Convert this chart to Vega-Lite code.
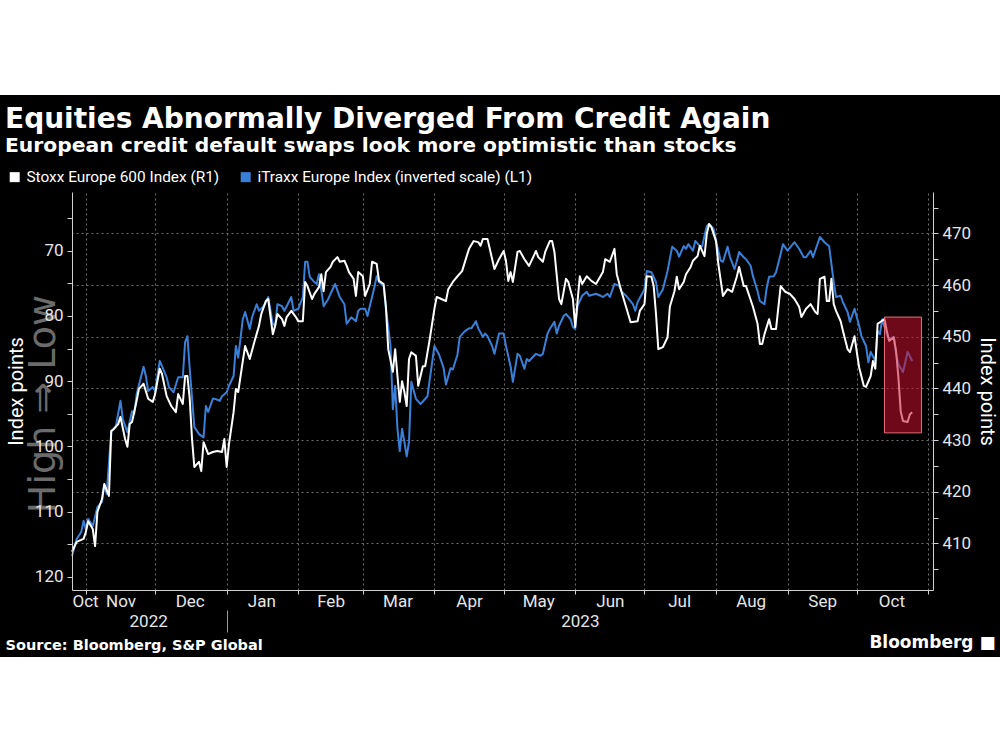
{
"$schema": "https://vega.github.io/schema/vega-lite/v6.json",
"background": "black",
"padding": 0,
"spacing": 0,
"bounds": "full",
"columns": 1,
"center": true,
"resolve": {"scale": {"color": "independent"}, "legend": {"color": "independent"}},
"config": {
  "view": {"stroke": null},
  "font": "Roboto",
  "axis": {"labelColor": "#e6e6e6", "labelFont": "Roboto", "labelFontSize": 17, "domainColor": "#d0d0d0", "tickColor": "#d0d0d0", "gridColor": "#6e6e6e", "gridDash": [2, 3], "titleColor": "white", "titleFont": "Roboto", "titleFontWeight": "normal"}
},
"datasets": {
  "itraxx": [
    {"date":"2022-10-26","value":116.8},{"date":"2022-10-28","value":114.2},{"date":"2022-10-30","value":113.1},{"date":"2022-10-31","value":111.4},
    {"date":"2022-11-01","value":112.7},{"date":"2022-11-02","value":111.1},{"date":"2022-11-04","value":112.2},{"date":"2022-11-06","value":109.3},
    {"date":"2022-11-08","value":108.5},{"date":"2022-11-09","value":105.8},{"date":"2022-11-10","value":107.3},{"date":"2022-11-12","value":97.8},
    {"date":"2022-11-13","value":97.3},{"date":"2022-11-14","value":96.9},{"date":"2022-11-16","value":93.0},{"date":"2022-11-17","value":95.8},
    {"date":"2022-11-19","value":97.8},{"date":"2022-11-21","value":94.6},{"date":"2022-11-22","value":95.0},{"date":"2022-11-23","value":92.0},
    {"date":"2022-11-26","value":87.8},{"date":"2022-11-27","value":89.2},{"date":"2022-11-28","value":91.5},{"date":"2022-11-30","value":90.9},
    {"date":"2022-12-01","value":91.5},{"date":"2022-12-03","value":86.9},{"date":"2022-12-04","value":87.7},{"date":"2022-12-06","value":89.4},
    {"date":"2022-12-07","value":90.9},{"date":"2022-12-09","value":91.7},{"date":"2022-12-11","value":89.4},{"date":"2022-12-13","value":89.4},
    {"date":"2022-12-14","value":84.0},{"date":"2022-12-15","value":83.1},{"date":"2022-12-16","value":88.1},{"date":"2022-12-18","value":97.0},
    {"date":"2022-12-20","value":98.1},{"date":"2022-12-22","value":98.6},{"date":"2022-12-23","value":93.8},{"date":"2022-12-24","value":94.7},
    {"date":"2022-12-26","value":92.7},{"date":"2022-12-27","value":92.7},{"date":"2022-12-29","value":93.0},{"date":"2022-12-30","value":92.3},
    {"date":"2023-01-01","value":91.7},{"date":"2023-01-02","value":90.7},{"date":"2023-01-04","value":89.2},{"date":"2023-01-05","value":84.6},
    {"date":"2023-01-06","value":86.4},{"date":"2023-01-08","value":80.5},{"date":"2023-01-09","value":79.4},{"date":"2023-01-11","value":82.0},
    {"date":"2023-01-12","value":80.2},{"date":"2023-01-14","value":78.2},{"date":"2023-01-15","value":79.2},{"date":"2023-01-17","value":78.5},
    {"date":"2023-01-19","value":77.1},{"date":"2023-01-21","value":81.2},{"date":"2023-01-22","value":81.5},{"date":"2023-01-23","value":78.2},
    {"date":"2023-01-25","value":78.5},{"date":"2023-01-26","value":79.2},{"date":"2023-01-27","value":78.5},{"date":"2023-01-29","value":77.1},
    {"date":"2023-01-30","value":79.2},{"date":"2023-02-01","value":78.9},{"date":"2023-02-03","value":77.1},{"date":"2023-02-04","value":71.7},
    {"date":"2023-02-05","value":71.7},{"date":"2023-02-06","value":74.0},{"date":"2023-02-08","value":74.8},{"date":"2023-02-09","value":75.1},
    {"date":"2023-02-10","value":73.6},{"date":"2023-02-12","value":78.5},{"date":"2023-02-14","value":77.4},{"date":"2023-02-15","value":76.6},
    {"date":"2023-02-17","value":75.1},{"date":"2023-02-19","value":77.1},{"date":"2023-02-21","value":78.2},{"date":"2023-02-22","value":81.2},
    {"date":"2023-02-24","value":80.2},{"date":"2023-02-26","value":80.8},{"date":"2023-02-27","value":79.2},{"date":"2023-02-28","value":78.9},
    {"date":"2023-03-02","value":78.9},{"date":"2023-03-03","value":80.0},{"date":"2023-03-06","value":75.6},{"date":"2023-03-07","value":73.9},
    {"date":"2023-03-08","value":74.8},{"date":"2023-03-10","value":75.4},{"date":"2023-03-11","value":78.9},{"date":"2023-03-13","value":84.6},
    {"date":"2023-03-14","value":94.3},{"date":"2023-03-15","value":90.7},{"date":"2023-03-16","value":97.3},{"date":"2023-03-17","value":100.7},
    {"date":"2023-03-18","value":97.3},{"date":"2023-03-19","value":99.3},{"date":"2023-03-20","value":101.5},{"date":"2023-03-21","value":99.3},
    {"date":"2023-03-22","value":90.1},{"date":"2023-03-24","value":92.7},{"date":"2023-03-26","value":93.5},{"date":"2023-03-29","value":92.3},
    {"date":"2023-04-01","value":84.6},{"date":"2023-04-03","value":85.9},{"date":"2023-04-05","value":88.0},{"date":"2023-04-06","value":90.5},
    {"date":"2023-04-08","value":88.0},{"date":"2023-04-09","value":88.2},{"date":"2023-04-11","value":85.9},{"date":"2023-04-12","value":83.2},
    {"date":"2023-04-14","value":82.4},{"date":"2023-04-16","value":81.9},{"date":"2023-04-17","value":81.9},{"date":"2023-04-19","value":80.8},
    {"date":"2023-04-20","value":81.9},{"date":"2023-04-22","value":83.2},{"date":"2023-04-23","value":82.7},{"date":"2023-04-24","value":83.1},
    {"date":"2023-04-26","value":84.6},{"date":"2023-04-27","value":85.8},{"date":"2023-04-29","value":82.7},{"date":"2023-05-01","value":82.7},
    {"date":"2023-05-02","value":84.6},{"date":"2023-05-04","value":87.7},{"date":"2023-05-05","value":90.1},{"date":"2023-05-07","value":85.8},
    {"date":"2023-05-08","value":86.1},{"date":"2023-05-10","value":88.1},{"date":"2023-05-11","value":86.6},{"date":"2023-05-12","value":86.9},
    {"date":"2023-05-15","value":85.8},{"date":"2023-05-17","value":86.1},{"date":"2023-05-18","value":85.8},{"date":"2023-05-20","value":82.7},
    {"date":"2023-05-21","value":82.0},{"date":"2023-05-23","value":80.9},{"date":"2023-05-24","value":82.7},{"date":"2023-05-25","value":81.5},
    {"date":"2023-05-27","value":80.0},{"date":"2023-05-28","value":79.7},{"date":"2023-05-30","value":80.5},{"date":"2023-05-31","value":81.7},
    {"date":"2023-06-01","value":82.0},{"date":"2023-06-02","value":78.5},{"date":"2023-06-04","value":76.9},{"date":"2023-06-06","value":76.3},
    {"date":"2023-06-07","value":76.9},{"date":"2023-06-10","value":76.6},{"date":"2023-06-12","value":76.9},{"date":"2023-06-13","value":77.1},
    {"date":"2023-06-15","value":76.6},{"date":"2023-06-16","value":77.1},{"date":"2023-06-18","value":75.1},{"date":"2023-06-20","value":75.4},
    {"date":"2023-06-21","value":76.2},{"date":"2023-06-23","value":76.9},{"date":"2023-06-26","value":78.2},{"date":"2023-06-27","value":79.2},
    {"date":"2023-06-28","value":77.9},{"date":"2023-07-01","value":75.9},{"date":"2023-07-02","value":73.1},{"date":"2023-07-04","value":73.3},
    {"date":"2023-07-06","value":74.8},{"date":"2023-07-07","value":77.1},{"date":"2023-07-09","value":75.9},{"date":"2023-07-11","value":73.1},
    {"date":"2023-07-13","value":69.4},{"date":"2023-07-15","value":70.0},{"date":"2023-07-16","value":70.9},{"date":"2023-07-18","value":69.3},
    {"date":"2023-07-19","value":69.7},{"date":"2023-07-20","value":69.0},{"date":"2023-07-22","value":70.0},{"date":"2023-07-23","value":68.5},
    {"date":"2023-07-25","value":69.3},{"date":"2023-07-26","value":69.3},{"date":"2023-07-28","value":66.2},{"date":"2023-07-29","value":65.9},
    {"date":"2023-07-31","value":66.7},{"date":"2023-08-01","value":68.5},{"date":"2023-08-03","value":71.5},{"date":"2023-08-04","value":71.7},
    {"date":"2023-08-06","value":69.4},{"date":"2023-08-07","value":70.9},{"date":"2023-08-09","value":72.8},{"date":"2023-08-10","value":71.6},
    {"date":"2023-08-11","value":70.2},{"date":"2023-08-13","value":71.0},{"date":"2023-08-14","value":71.3},{"date":"2023-08-16","value":72.3},
    {"date":"2023-08-17","value":73.9},{"date":"2023-08-19","value":76.2},{"date":"2023-08-20","value":77.7},{"date":"2023-08-22","value":78.2},
    {"date":"2023-08-23","value":75.6},{"date":"2023-08-24","value":74.0},{"date":"2023-08-26","value":73.9},{"date":"2023-08-27","value":73.3},
    {"date":"2023-08-29","value":70.5},{"date":"2023-08-30","value":69.0},{"date":"2023-09-01","value":70.0},{"date":"2023-09-04","value":68.7},
    {"date":"2023-09-06","value":69.7},{"date":"2023-09-08","value":71.0},{"date":"2023-09-09","value":71.0},{"date":"2023-09-11","value":70.0},
    {"date":"2023-09-12","value":71.0},{"date":"2023-09-15","value":67.9},{"date":"2023-09-17","value":68.7},{"date":"2023-09-19","value":69.3},
    {"date":"2023-09-21","value":74.8},{"date":"2023-09-22","value":77.1},{"date":"2023-09-24","value":76.9},{"date":"2023-09-25","value":77.9},
    {"date":"2023-09-27","value":79.4},{"date":"2023-09-28","value":80.9},{"date":"2023-09-30","value":78.9},{"date":"2023-10-02","value":81.5},
    {"date":"2023-10-03","value":83.1},{"date":"2023-10-05","value":84.6},{"date":"2023-10-06","value":87.1},{"date":"2023-10-07","value":85.5},
    {"date":"2023-10-09","value":86.9},{"date":"2023-10-10","value":82.3},{"date":"2023-10-11","value":82.8},{"date":"2023-10-12","value":80.5},
    {"date":"2023-10-14","value":82.8},{"date":"2023-10-15","value":83.5},{"date":"2023-10-17","value":83.2},{"date":"2023-10-18","value":85.8},
    {"date":"2023-10-19","value":87.4},{"date":"2023-10-21","value":88.6},{"date":"2023-10-22","value":87.1},{"date":"2023-10-23","value":85.5},
    {"date":"2023-10-25","value":86.9}
  ],
  "stoxx": [
    {"date":"2022-10-26","value":408.4},{"date":"2022-10-28","value":410.3},{"date":"2022-10-31","value":410.9},{"date":"2022-11-01","value":412.2},
    {"date":"2022-11-02","value":414.3},{"date":"2022-11-04","value":412.8},{"date":"2022-11-05","value":409.5},{"date":"2022-11-06","value":416.1},
    {"date":"2022-11-08","value":418.6},{"date":"2022-11-09","value":421.5},{"date":"2022-11-11","value":419.2},{"date":"2022-11-12","value":431.8},
    {"date":"2022-11-13","value":432.1},{"date":"2022-11-15","value":433.1},{"date":"2022-11-16","value":434.5},{"date":"2022-11-18","value":430.2},
    {"date":"2022-11-19","value":428.7},{"date":"2022-11-20","value":433.1},{"date":"2022-11-21","value":433.5},{"date":"2022-11-23","value":437.6},
    {"date":"2022-11-24","value":439.9},{"date":"2022-11-26","value":440.9},{"date":"2022-11-28","value":438.0},{"date":"2022-11-30","value":437.4},
    {"date":"2022-12-01","value":438.9},{"date":"2022-12-03","value":443.8},{"date":"2022-12-04","value":442.8},{"date":"2022-12-06","value":438.5},
    {"date":"2022-12-08","value":436.6},{"date":"2022-12-10","value":435.4},{"date":"2022-12-11","value":438.9},{"date":"2022-12-13","value":437.0},
    {"date":"2022-12-14","value":442.4},{"date":"2022-12-15","value":442.4},{"date":"2022-12-16","value":438.0},{"date":"2022-12-17","value":430.2},
    {"date":"2022-12-18","value":424.8},{"date":"2022-12-20","value":425.8},{"date":"2022-12-21","value":424.0},{"date":"2022-12-22","value":429.6},
    {"date":"2022-12-24","value":427.3},{"date":"2022-12-26","value":427.7},{"date":"2022-12-28","value":427.9},{"date":"2022-12-30","value":427.7},
    {"date":"2022-12-31","value":430.2},{"date":"2023-01-01","value":424.8},{"date":"2023-01-02","value":429.2},{"date":"2023-01-04","value":435.4},
    {"date":"2023-01-05","value":439.9},{"date":"2023-01-06","value":439.3},{"date":"2023-01-08","value":445.3},{"date":"2023-01-09","value":448.2},
    {"date":"2023-01-11","value":445.7},{"date":"2023-01-13","value":449.0},{"date":"2023-01-15","value":452.1},{"date":"2023-01-16","value":454.4},
    {"date":"2023-01-18","value":456.9},{"date":"2023-01-19","value":457.3},{"date":"2023-01-21","value":450.5},{"date":"2023-01-22","value":452.1},
    {"date":"2023-01-23","value":454.4},{"date":"2023-01-25","value":453.4},{"date":"2023-01-26","value":452.1},{"date":"2023-01-27","value":453.8},
    {"date":"2023-01-29","value":455.0},{"date":"2023-01-31","value":453.8},{"date":"2023-02-01","value":453.0},{"date":"2023-02-03","value":453.0},
    {"date":"2023-02-04","value":460.6},{"date":"2023-02-05","value":459.8},{"date":"2023-02-07","value":457.3},{"date":"2023-02-08","value":458.3},
    {"date":"2023-02-10","value":459.6},{"date":"2023-02-11","value":462.1},{"date":"2023-02-12","value":458.8},{"date":"2023-02-13","value":462.5},
    {"date":"2023-02-15","value":463.5},{"date":"2023-02-16","value":464.5},{"date":"2023-02-18","value":465.4},{"date":"2023-02-19","value":464.5},
    {"date":"2023-02-21","value":464.7},{"date":"2023-02-22","value":463.7},{"date":"2023-02-23","value":462.5},{"date":"2023-02-25","value":461.2},
    {"date":"2023-02-26","value":457.9},{"date":"2023-02-27","value":462.5},{"date":"2023-03-01","value":461.7},{"date":"2023-03-02","value":457.9},
    {"date":"2023-03-04","value":460.2},{"date":"2023-03-05","value":464.5},{"date":"2023-03-07","value":464.1},{"date":"2023-03-08","value":460.8},
    {"date":"2023-03-10","value":460.2},{"date":"2023-03-11","value":455.8},{"date":"2023-03-12","value":447.6},{"date":"2023-03-14","value":443.2},
    {"date":"2023-03-15","value":447.6},{"date":"2023-03-16","value":442.4},{"date":"2023-03-17","value":437.4},{"date":"2023-03-18","value":441.4},
    {"date":"2023-03-19","value":439.3},{"date":"2023-03-20","value":436.6},{"date":"2023-03-21","value":445.7},{"date":"2023-03-22","value":447.0},
    {"date":"2023-03-24","value":446.3},{"date":"2023-03-25","value":440.5},{"date":"2023-03-27","value":444.3},{"date":"2023-03-28","value":444.3},
    {"date":"2023-03-30","value":449.6},{"date":"2023-04-01","value":455.4},{"date":"2023-04-02","value":457.7},{"date":"2023-04-04","value":457.3},
    {"date":"2023-04-06","value":456.9},{"date":"2023-04-07","value":459.2},{"date":"2023-04-09","value":460.6},{"date":"2023-04-11","value":461.7},
    {"date":"2023-04-13","value":462.7},{"date":"2023-04-15","value":465.6},{"date":"2023-04-16","value":467.0},{"date":"2023-04-18","value":468.5},
    {"date":"2023-04-20","value":468.3},{"date":"2023-04-21","value":467.6},{"date":"2023-04-22","value":468.9},{"date":"2023-04-24","value":468.9},
    {"date":"2023-04-25","value":467.0},{"date":"2023-04-27","value":463.1},{"date":"2023-04-29","value":465.0},{"date":"2023-05-01","value":466.6},
    {"date":"2023-05-02","value":464.7},{"date":"2023-05-03","value":460.8},{"date":"2023-05-04","value":462.5},{"date":"2023-05-05","value":460.6},
    {"date":"2023-05-07","value":466.4},{"date":"2023-05-08","value":466.6},{"date":"2023-05-10","value":465.0},{"date":"2023-05-12","value":463.7},
    {"date":"2023-05-14","value":465.6},{"date":"2023-05-15","value":466.6},{"date":"2023-05-16","value":465.4},{"date":"2023-05-18","value":464.5},
    {"date":"2023-05-19","value":466.4},{"date":"2023-05-21","value":468.5},{"date":"2023-05-22","value":468.5},{"date":"2023-05-23","value":466.4},
    {"date":"2023-05-25","value":457.3},{"date":"2023-05-26","value":456.3},{"date":"2023-05-28","value":461.2},{"date":"2023-05-29","value":460.6},
    {"date":"2023-05-31","value":457.3},{"date":"2023-06-01","value":451.9},{"date":"2023-06-03","value":461.7},{"date":"2023-06-04","value":460.2},
    {"date":"2023-06-06","value":461.7},{"date":"2023-06-08","value":460.8},{"date":"2023-06-10","value":460.2},{"date":"2023-06-13","value":462.5},
    {"date":"2023-06-14","value":465.0},{"date":"2023-06-16","value":464.5},{"date":"2023-06-18","value":467.0},{"date":"2023-06-19","value":462.1},
    {"date":"2023-06-21","value":458.8},{"date":"2023-06-23","value":455.8},{"date":"2023-06-25","value":452.8},{"date":"2023-06-28","value":453.0},
    {"date":"2023-06-29","value":455.0},{"date":"2023-07-01","value":456.3},{"date":"2023-07-02","value":461.7},{"date":"2023-07-04","value":461.6},
    {"date":"2023-07-05","value":459.8},{"date":"2023-07-06","value":454.4},{"date":"2023-07-07","value":447.6},{"date":"2023-07-09","value":448.0},
    {"date":"2023-07-11","value":449.9},{"date":"2023-07-12","value":455.8},{"date":"2023-07-14","value":458.8},{"date":"2023-07-15","value":461.6},
    {"date":"2023-07-16","value":459.2},{"date":"2023-07-18","value":460.6},{"date":"2023-07-19","value":462.1},{"date":"2023-07-21","value":463.5},
    {"date":"2023-07-22","value":464.7},{"date":"2023-07-24","value":465.6},{"date":"2023-07-25","value":467.6},{"date":"2023-07-27","value":465.6},
    {"date":"2023-07-28","value":469.9},{"date":"2023-07-29","value":471.8},{"date":"2023-07-30","value":471.2},{"date":"2023-08-01","value":468.5},
    {"date":"2023-08-02","value":464.1},{"date":"2023-08-04","value":457.9},{"date":"2023-08-06","value":459.2},{"date":"2023-08-08","value":458.7},
    {"date":"2023-08-10","value":461.6},{"date":"2023-08-11","value":463.5},{"date":"2023-08-13","value":459.8},{"date":"2023-08-14","value":459.8},
    {"date":"2023-08-17","value":455.8},{"date":"2023-08-19","value":452.5},{"date":"2023-08-20","value":448.6},{"date":"2023-08-21","value":448.6},
    {"date":"2023-08-22","value":450.5},{"date":"2023-08-24","value":453.4},{"date":"2023-08-25","value":451.5},{"date":"2023-08-27","value":451.5},
    {"date":"2023-08-29","value":459.8},{"date":"2023-08-31","value":458.7},{"date":"2023-09-02","value":458.3},{"date":"2023-09-04","value":457.3},
    {"date":"2023-09-06","value":455.8},{"date":"2023-09-07","value":453.8},{"date":"2023-09-09","value":455.4},{"date":"2023-09-11","value":456.3},
    {"date":"2023-09-13","value":454.8},{"date":"2023-09-14","value":454.4},{"date":"2023-09-15","value":461.2},{"date":"2023-09-17","value":461.6},
    {"date":"2023-09-18","value":456.9},{"date":"2023-09-19","value":456.9},{"date":"2023-09-20","value":461.2},{"date":"2023-09-21","value":456.3},
    {"date":"2023-09-22","value":455.0},{"date":"2023-09-24","value":453.0},{"date":"2023-09-25","value":451.1},{"date":"2023-09-27","value":447.6},
    {"date":"2023-09-28","value":447.0},{"date":"2023-09-30","value":450.1},{"date":"2023-10-01","value":447.0},{"date":"2023-10-02","value":444.1},
    {"date":"2023-10-04","value":440.5},{"date":"2023-10-05","value":440.3},{"date":"2023-10-07","value":442.4},{"date":"2023-10-08","value":445.3},
    {"date":"2023-10-09","value":443.8},{"date":"2023-10-10","value":452.5},{"date":"2023-10-11","value":452.8},{"date":"2023-10-13","value":453.4},
    {"date":"2023-10-14","value":451.1},{"date":"2023-10-15","value":449.2},{"date":"2023-10-17","value":449.9},{"date":"2023-10-18","value":447.2},
    {"date":"2023-10-19","value":442.2},{"date":"2023-10-20","value":435.6},{"date":"2023-10-21","value":433.7},{"date":"2023-10-23","value":433.5},
    {"date":"2023-10-24","value":435.0},{"date":"2023-10-25","value":435.4}
  ],
  "box": [{"start": "2023-10-13", "end": "2023-10-29", "top": 453.8, "bottom": 431.4}],
  "sep": [{"date": "2023-01-01"}],
  "legend": [{"series": "Stoxx Europe 600 Index (R1)"}, {"series": "iTraxx Europe Index (inverted scale) (L1)"}]
},
"concat": [
  {"width": 1074, "height": 95, "view": {"fill": "white", "stroke": null}, "data": {"values": [{}]}, "mark": {"type": "rect", "opacity": 0}, "encoding": {}},
  {
    "width": 861,
    "height": 398,
    "title": {"text": [" ", "Equities Abnormally Diverged From Credit Again"], "lineHeight": 10, "subtitle": "European credit default swaps look more optimistic than stocks", "anchor": "start", "frame": "group", "dx": -67, "offset": 13, "font": "DejaVu Sans", "fontSize": 28, "fontWeight": "bold", "color": "white", "subtitleFont": "DejaVu Sans", "subtitleFontSize": 20.3, "subtitleFontWeight": "bold", "subtitleColor": "white", "subtitlePadding": 2},
    "layer": [
      {
        "layer": [
          {
            "data": {"name": "itraxx"},
            "mark": {"type": "line", "color": "#3a80d8", "strokeWidth": 2, "strokeJoin": "round"},
            "encoding": {
              "x": {"field": "date", "type": "temporal",
                "scale": {"type": "utc", "nice": false, "domain": [{"year": 2022, "month": "oct", "date": 26, "utc": true}, {"year": 2023, "month": "nov", "date": 3, "utc": true}]},
                "axis": {"orient": "bottom", "labels": false, "ticks": true, "tickSize": 4, "domain": true, "grid": true,
                  "title": ".", "titleColor": "black", "titleFontSize": 2, "titleX": 930, "titleY": 0, "titleAlign": "right", "titleBaseline": "bottom", "titleAngle": 0,
                  "values": [
                    {"year": 2022, "month": "nov", "date": 1, "utc": true}, {"year": 2022, "month": "dec", "date": 1, "utc": true},
                    {"year": 2023, "month": "jan", "date": 1, "utc": true}, {"year": 2023, "month": "feb", "date": 1, "utc": true},
                    {"year": 2023, "month": "mar", "date": 1, "utc": true}, {"year": 2023, "month": "apr", "date": 1, "utc": true},
                    {"year": 2023, "month": "may", "date": 1, "utc": true}, {"year": 2023, "month": "jun", "date": 1, "utc": true},
                    {"year": 2023, "month": "jul", "date": 1, "utc": true}, {"year": 2023, "month": "aug", "date": 1, "utc": true},
                    {"year": 2023, "month": "sep", "date": 1, "utc": true}, {"year": 2023, "month": "oct", "date": 1, "utc": true},
                    {"year": 2023, "month": "nov", "date": 1, "utc": true}]}},
              "y": {"field": "value", "type": "quantitative",
                "scale": {"domain": [61, 122], "reverse": true, "nice": false, "zero": false},
                "axis": {"orient": "left", "values": [65, 70, 75, 80, 85, 90, 95, 100, 105, 110, 115, 120], "labelExpr": "datum.value % 10 === 0 ? datum.label : ''", "tickSize": 5, "labelPadding": 4, "grid": false, "title": "Index points", "titleFontSize": 20, "titlePadding": 8, "zindex": 1}}
            }
          },
          {
            "data": {"values": [{}]},
            "mark": {"type": "text", "text": "High ⇒ Low", "angle": 270, "dy": -17, "font": "DejaVu Sans", "fontSize": 38, "color": "#6b6b6b", "align": "center", "baseline": "alphabetic"},
            "encoding": {
              "x": {"datum": {"year": 2022, "month": "oct", "date": 26, "utc": true}, "type": "temporal",
                "scale": {"type": "utc", "nice": false, "domain": [{"year": 2022, "month": "oct", "date": 26, "utc": true}, {"year": 2023, "month": "nov", "date": 3, "utc": true}]},
                "axis": {"orient": "bottom", "labels": false, "ticks": true, "tickSize": 4, "domain": true, "grid": true,
                  "title": ".", "titleColor": "black", "titleFontSize": 2, "titleX": 930, "titleY": 0, "titleAlign": "right", "titleBaseline": "bottom", "titleAngle": 0,
                  "values": [
                    {"year": 2022, "month": "nov", "date": 1, "utc": true}, {"year": 2022, "month": "dec", "date": 1, "utc": true},
                    {"year": 2023, "month": "jan", "date": 1, "utc": true}, {"year": 2023, "month": "feb", "date": 1, "utc": true},
                    {"year": 2023, "month": "mar", "date": 1, "utc": true}, {"year": 2023, "month": "apr", "date": 1, "utc": true},
                    {"year": 2023, "month": "may", "date": 1, "utc": true}, {"year": 2023, "month": "jun", "date": 1, "utc": true},
                    {"year": 2023, "month": "jul", "date": 1, "utc": true}, {"year": 2023, "month": "aug", "date": 1, "utc": true},
                    {"year": 2023, "month": "sep", "date": 1, "utc": true}, {"year": 2023, "month": "oct", "date": 1, "utc": true},
                    {"year": 2023, "month": "nov", "date": 1, "utc": true}]}},
              "y": {"datum": 93.5, "type": "quantitative", "scale": {"domain": [61, 122], "reverse": true, "nice": false, "zero": false},
                "axis": {"orient": "left", "values": [65, 70, 75, 80, 85, 90, 95, 100, 105, 110, 115, 120], "labelExpr": "datum.value % 10 === 0 ? datum.label : ''", "tickSize": 5, "labelPadding": 4, "grid": false, "title": "Index points", "titleFontSize": 20, "titlePadding": 8, "zindex": 1}}
            }
          }
        ]
      },
      {
        "layer": [
          {
            "data": {"name": "stoxx"},
            "mark": {"type": "line", "color": "white", "strokeWidth": 2, "strokeJoin": "round"},
            "encoding": {
              "x": {"field": "date", "type": "temporal",
                "scale": {"type": "utc", "nice": false, "domain": [{"year": 2022, "month": "oct", "date": 26, "utc": true}, {"year": 2023, "month": "nov", "date": 3, "utc": true}]},
                "axis": {"orient": "bottom", "format": "%b", "labelFlush": true, "labelOverlap": false, "ticks": false, "tickSize": 0, "domain": false, "grid": false, "labelPadding": 3,
                  "title": ".", "titleColor": "black", "titleFontSize": 2, "titleX": -72, "titleY": 67, "titleAlign": "left", "titleBaseline": "bottom", "titleAngle": 0,
                  "values": [
                    {"year": 2022, "month": "oct", "date": 26, "utc": true}, {"year": 2022, "month": "nov", "date": 16, "utc": true},
                    {"year": 2022, "month": "dec", "date": 16, "utc": true}, {"year": 2023, "month": "jan", "date": 16, "utc": true},
                    {"year": 2023, "month": "feb", "date": 15, "utc": true}, {"year": 2023, "month": "mar", "date": 16, "utc": true},
                    {"year": 2023, "month": "apr", "date": 16, "utc": true}, {"year": 2023, "month": "may", "date": 16, "utc": true},
                    {"year": 2023, "month": "jun", "date": 16, "utc": true}, {"year": 2023, "month": "jul", "date": 16, "utc": true},
                    {"year": 2023, "month": "aug", "date": 16, "utc": true}, {"year": 2023, "month": "sep", "date": 16, "utc": true},
                    {"year": 2023, "month": "oct", "date": 16, "utc": true}]}},
              "y": {"field": "value", "type": "quantitative",
                "scale": {"domain": [401, 478], "nice": false, "zero": false},
                "axis": {"orient": "right", "values": [405, 410, 415, 420, 425, 430, 435, 440, 445, 450, 455, 460, 465, 470, 475], "labelExpr": "datum.value % 10 === 0 ? datum.label : ''", "tickSize": 5, "labelPadding": 4, "grid": true, "gridOpacity": {"condition": {"test": "datum.value % 10 === 0", "value": 1}, "value": 0}, "title": "Index points", "titleFontSize": 20, "titlePadding": 6}}
            }
          },
          {
            "data": {"name": "box"},
            "mark": {"type": "rect", "fill": "#c8102e", "fillOpacity": 0.55, "stroke": "#e8707c", "strokeWidth": 1},
            "encoding": {
              "x": {"field": "start", "type": "temporal",
                "scale": {"type": "utc", "nice": false, "domain": [{"year": 2022, "month": "oct", "date": 26, "utc": true}, {"year": 2023, "month": "nov", "date": 3, "utc": true}]},
                "axis": {"orient": "bottom", "format": "%Y", "ticks": false, "tickSize": 0, "domain": false, "grid": false, "labelPadding": 23, "labelOverlap": false,
                  "values": [{"year": 2022, "month": "nov", "date": 28, "utc": true}, {"year": 2023, "month": "jun", "date": 3, "utc": true}],
                  "title": "Source: Bloomberg, S&P Global", "titleFont": "DejaVu Sans", "titleFontWeight": "bold", "titleFontSize": 14.5, "titleColor": "white", "titleX": -67, "titleY": 55, "titleAlign": "left", "titleBaseline": "middle", "titleAngle": 0}},
              "x2": {"field": "end"},
              "y": {"field": "top", "type": "quantitative", "scale": {"domain": [401, 478], "nice": false, "zero": false},
                "axis": {"orient": "right", "values": [405, 410, 415, 420, 425, 430, 435, 440, 445, 450, 455, 460, 465, 470, 475], "labelExpr": "datum.value % 10 === 0 ? datum.label : ''", "tickSize": 5, "labelPadding": 4, "grid": true, "gridOpacity": {"condition": {"test": "datum.value % 10 === 0", "value": 1}, "value": 0}, "title": "Index points", "titleFontSize": 20, "titlePadding": 6}},
              "y2": {"field": "bottom"}
            }
          },
          {
            "data": {"name": "sep"},
            "mark": {"type": "rule", "opacity": 0},
            "encoding": {
              "x": {"field": "date", "type": "temporal",
                "scale": {"type": "utc", "nice": false, "domain": [{"year": 2022, "month": "oct", "date": 26, "utc": true}, {"year": 2023, "month": "nov", "date": 3, "utc": true}]},
                "axis": {"orient": "bottom", "values": [{"year": 2023, "month": "jan", "date": 1, "utc": true}], "labels": false, "ticks": true, "tickSize": 22, "tickColor": "#9a9a9a", "domain": false, "grid": false, "offset": 20,
                  "title": "Bloomberg ■", "titleFont": "DejaVu Sans", "titleFontWeight": "bold", "titleFontSize": 17, "titleColor": "white", "titleX": 923, "titleY": 32, "titleAlign": "right", "titleBaseline": "middle", "titleAngle": 0}}
            }
          }
        ],
        "resolve": {"axis": {"x": "independent"}}
      },
      {
        "data": {"name": "legend"},
        "mark": {"type": "square", "filled": true, "size": 0, "strokeWidth": 0},
        "encoding": {
          "color": {"field": "series", "type": "nominal",
            "scale": {"domain": ["Stoxx Europe 600 Index (R1)", "iTraxx Europe Index (inverted scale) (L1)"], "range": ["white", "#3a80d8"]},
            "legend": {"orient": "none", "legendX": -65, "legendY": -23, "direction": "horizontal", "title": null, "symbolType": "square", "symbolSize": 100, "symbolStrokeWidth": 0, "symbolOpacity": 1, "labelColor": "white", "labelFont": "Roboto", "labelFontSize": 15.4, "labelOffset": 4, "labelLimit": 0, "columnPadding": 18}}
        }
      }
    ],
    "resolve": {"scale": {"y": "independent"}, "axis": {"x": "independent", "y": "independent"}}
  },
  {"width": 1074, "height": 93, "view": {"fill": "white", "stroke": null}, "data": {"values": [{}]}, "mark": {"type": "rect", "opacity": 0}, "encoding": {}}
]
}
